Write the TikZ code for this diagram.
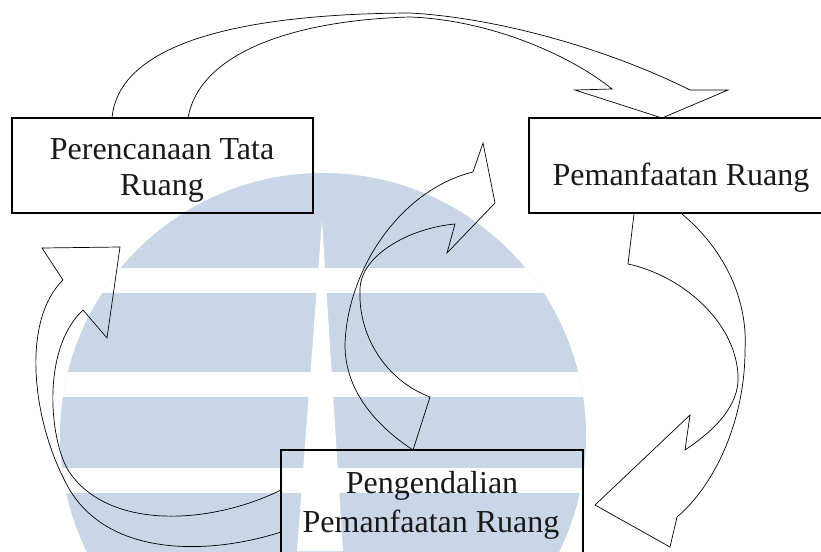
\documentclass[tikz,border=0pt]{standalone}
\usepackage{fontspec}
\setmainfont{Liberation Serif}
\definecolor{wm}{RGB}{200,214,232}
\begin{document}
\begin{tikzpicture}[x=1pt,y=-1pt,
  boxst/.style={draw=black, line width=1.1pt, inner sep=0pt},
  arr/.style={draw=black, line width=0.7pt, line join=miter},
  lbl/.style={font=\fontsize{32}{36}\selectfont, anchor=base, inner sep=0pt, text=black!90}]
\useasboundingbox (0,0) rectangle (821,551);
\clip (0,0) rectangle (821,551);
% watermark
\fill[wm] (323,436) circle (263pt);
\begin{scope}
  \clip (323,436) circle (263pt);
  \fill[white] (0,268) rectangle (821,293);
  \fill[white] (0,372) rectangle (821,397);
  \fill[white] (0,468) rectangle (821,493);
  \fill[white] (322,220) -- (343,551) -- (297,551) -- cycle;
\end{scope}
% boxes
\node[boxst, minimum width=301pt, minimum height=95pt] (p1) at (162.5,165.5) {};
\node[boxst, minimum width=310pt, minimum height=95pt] (p2) at (684,165.5) {};
\node[boxst, minimum width=302pt, minimum height=150pt] (p3) at (432,525) {};
% labels
\node[lbl] (t1a) at (162,159) {Perencanaan Tata};
\node[lbl] (t1b) at (162,195) {Ruang};
\node[lbl] (t2) at (681,185) {Pemanfaatan Ruang};
\node[lbl] (t3a) at (432,493) {Pengendalian};
\node[lbl] (t3b) at (431,532) {Pemanfaatan Ruang};
% arrow A (top)
\draw[arr] (112,118) .. controls (118,50) and (220,14) .. (410,13)
  .. controls (500,18) and (610,50) .. (690,90) -- (728,90) -- (662,118)
  -- (575,90) -- (612,89) .. controls (570,55) and (490,20) .. (410,17)
  .. controls (300,20) and (200,50) .. (188,118);
% arrow B (right)
\draw[arr] (682,214) .. controls (725,250) and (748,300) .. (745,350)
  .. controls (745,420) and (715,485) .. (677,517) -- (670,547) -- (595,505)
  -- (690,415) -- (685,450) .. controls (715,430) and (740,405) .. (738,375)
  .. controls (735,320) and (680,275) .. (628,264) -- (634,214);
% arrow C (left)
\draw[arr] (281,532) .. controls (210,555) and (100,560) .. (63,477)
  .. controls (32,415) and (22,320) .. (63,280) -- (42,248) -- (120,247)
  -- (107,338) -- (83,310) .. controls (40,350) and (50,445) .. (70,473)
  .. controls (110,530) and (210,525) .. (281,490);
% arrow D (middle)
\draw[arr] (413,450) .. controls (375,425) and (345,390) .. (345,345)
  .. controls (347,270) and (400,190) .. (473,172) -- (483,143) -- (495,203)
  -- (447,253) -- (455,224) .. controls (410,228) and (360,255) .. (360,290)
  .. controls (358,335) and (385,380) .. (430,397) -- cycle;
\end{tikzpicture}
\end{document}
